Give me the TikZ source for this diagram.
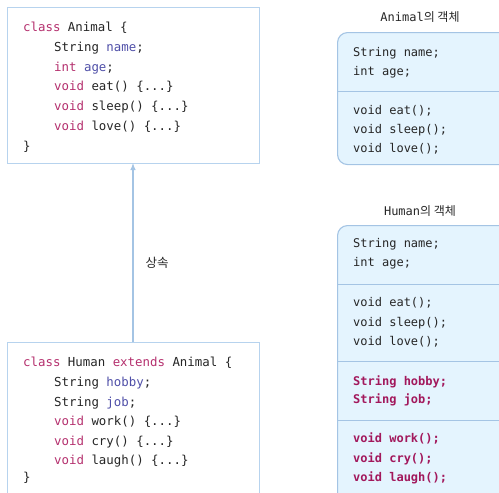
\documentclass[tikz,border=0pt]{standalone}
\usepackage{fontspec}
\setmonofont{DejaVu Sans Mono}
\newfontfamily\kfont{Noto Sans CJK KR}
\usetikzlibrary{arrows.meta}
\definecolor{kw}{HTML}{B5306E}
\definecolor{idc}{HTML}{4F4FA8}
\definecolor{txt}{HTML}{262626}
\definecolor{bord}{HTML}{B7D3EE}
\definecolor{objfill}{HTML}{E4F4FE}
\definecolor{objbord}{HTML}{A4C4E4}
\definecolor{hot}{HTML}{A2185C}
\tikzset{
  codebox/.style={draw=bord, line width=1.4pt, fill=white},
  objbox/.style={draw=objbord, line width=1.1pt, fill=objfill, rounded corners=10pt},
  divider/.style={draw=objbord, line width=0.9pt},
  code/.style={anchor=base west, inner sep=0pt, font=\ttfamily\fontsize{12.4}{14}\selectfont, text=txt},
  objtxt/.style={anchor=base west, inner sep=0pt, font=\ttfamily\fontsize{12}{14}\selectfont, text=txt},
  objhot/.style={anchor=base west, inner sep=0pt, font=\ttfamily\bfseries\fontsize{12}{14}\selectfont, text=hot},
  title/.style={inner sep=0pt, font=\ttfamily\fontsize{12}{14}\selectfont, text=txt},
  inherit/.style={draw=objbord, line width=1.1pt, -{Latex[length=7pt,width=5.5pt]}}
}
\newcommand{\kw}[1]{\textcolor{kw}{#1}}
\newcommand{\idn}[1]{\textcolor{idc}{#1}}
\begin{document}
\begin{tikzpicture}[x=1pt,y=-1pt]
\useasboundingbox (0,0) rectangle (499,493);
\clip (0,0) rectangle (499,493);
% left boxes
\node[codebox, minimum width=252pt, minimum height=156pt, anchor=north west] (animal) at (7,7) {};
\node[codebox, minimum width=252pt, minimum height=170pt, anchor=north west] (human) at (7,342) {};
% animal code
\node[code] (a1) at (23,31) {\kw{class} Animal \{};
\node[code] (a2) at (54,51) {String \idn{name};};
\node[code] (a3) at (54,71) {\kw{int} \idn{age};};
\node[code] (a4) at (54,90) {\kw{void} eat() \{...\}};
\node[code] (a5) at (54,110) {\kw{void} sleep() \{...\}};
\node[code] (a6) at (54,130) {\kw{void} love() \{...\}};
\node[code] (a7) at (23,150) {\}};
% human code
\node[code] (h1) at (23,366) {\kw{class} Human \kw{extends} Animal \{};
\node[code] (h2) at (54,386) {String \idn{hobby};};
\node[code] (h3) at (54,406) {String \idn{job};};
\node[code] (h4) at (54,425) {\kw{void} work() \{...\}};
\node[code] (h5) at (54,445) {\kw{void} cry() \{...\}};
\node[code] (h6) at (54,464) {\kw{void} laugh() \{...\}};
\node[code] (h7) at (23,481) {\}};
% inheritance arrow
\coordinate (arS) at (133,342);
\coordinate (arE) at (133,163);
\draw[inherit] (arS) -- (arE);
\node[title, font=\kfont\fontsize{12.5}{14}\selectfont] (inh) at (157,263) {상속};
% Animal object
\node[title] (t1) at (420,17) {Animal{\kfont 의 객체}};
\node[objbox, minimum width=180pt, minimum height=132pt, anchor=north west] (aobj) at (337,32) {};
\coordinate (ad1) at (337,91);
\draw[divider] (ad1) -- ++(170,0);
\node[objtxt] (o1) at (353,56) {String name;};
\node[objtxt] (o2) at (353,75) {int age;};
\node[objtxt] (o3) at (353,114) {void eat();};
\node[objtxt] (o4) at (353,133) {void sleep();};
\node[objtxt] (o5) at (353,152) {void love();};
% Human object
\node[title] (t2) at (420,211) {Human{\kfont 의 객체}};
\node[objbox, minimum width=180pt, minimum height=300pt, anchor=north west] (hobj) at (337,225) {};
\coordinate (hd1) at (337,284);
\coordinate (hd2) at (337,361);
\coordinate (hd3) at (337,420);
\draw[divider] (hd1) -- ++(170,0);
\draw[divider] (hd2) -- ++(170,0);
\draw[divider] (hd3) -- ++(170,0);
\node[objtxt] (p1) at (353,247) {String name;};
\node[objtxt] (p2) at (353,266) {int age;};
\node[objtxt] (p3) at (353,306) {void eat();};
\node[objtxt] (p4) at (353,326) {void sleep();};
\node[objtxt] (p5) at (353,345) {void love();};
\node[objhot] (p6) at (353,385) {String hobby;};
\node[objhot] (p7) at (353,403) {String job;};
\node[objhot] (p8) at (353,442) {void work();};
\node[objhot] (p9) at (353,462) {void cry();};
\node[objhot] (p10) at (353,481) {void laugh();};
\end{tikzpicture}
\end{document}
